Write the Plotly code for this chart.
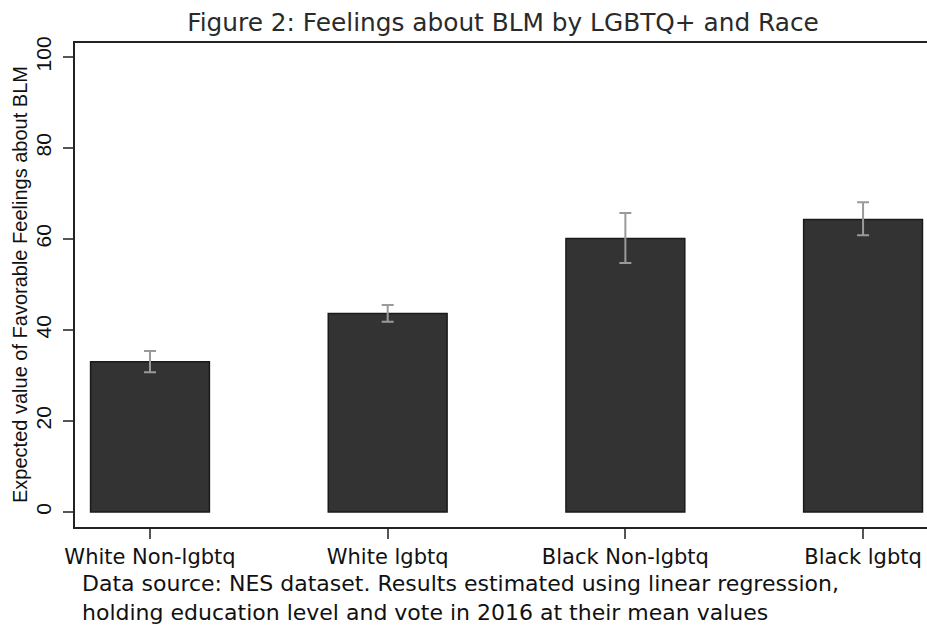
import plotly.graph_objects as go

# Group labels and estimated means with 95% confidence bounds
groups = ["White Non-lgbtq", "White lgbtq", "Black Non-lgbtq", "Black lgbtq"]
expected = [33.0, 43.6, 60.1, 64.3]
ci_upper = [35.4, 45.5, 65.7, 68.1]
ci_lower = [30.7, 41.8, 54.7, 60.8]
y_ticks = [0, 20, 40, 60, 80, 100]

positions = list(range(len(groups)))
err_plus = [u - v for u, v in zip(ci_upper, expected)]
err_minus = [v - l for v, l in zip(expected, ci_lower)]

H_FONT = "DejaVu Sans"
V_FONT = "Liberation Sans, Arial, sans-serif"

fig = go.Figure()
fig.add_trace(go.Bar(
    x=positions,
    y=expected,
    width=0.5,
    marker=dict(color="#333333", line=dict(color="#1a1a1a", width=1.5)),
    error_y=dict(
        type="data",
        symmetric=False,
        array=err_plus,
        arrayminus=err_minus,
        color="#9a9a9a",
        thickness=2,
        width=6,
    ),
    showlegend=False,
))

fig.update_layout(
    width=927,
    height=626,
    margin=dict(l=75, r=0, t=43, b=99),
    plot_bgcolor="white",
    paper_bgcolor="white",
    bargap=0.5,
    title=dict(
        text="Figure 2: Feelings about BLM by LGBTQ+ and Race",
        font=dict(family=H_FONT, size=24.8, color="#2a2a2a"),
        x=503 / 927,
        xanchor="center",
        xref="container",
        y=1 - 22 / 626,
        yanchor="middle",
        yref="container",
    ),
    xaxis=dict(
        range=[-0.3155, 3.269],
        tickmode="array",
        tickvals=positions,
        ticktext=groups,
        ticks="outside",
        ticklen=10,
        tickwidth=2,
        tickcolor="#555555",
        tickfont=dict(family=H_FONT, size=21, color="#111111"),
        showline=True,
        linecolor="#222222",
        linewidth=2,
        mirror=True,
        showgrid=False,
        zeroline=False,
        fixedrange=True,
    ),
    yaxis=dict(
        range=[-3.3, 103.08],
        tickmode="array",
        tickvals=y_ticks,
        ticks="outside",
        ticklen=10,
        tickwidth=2,
        tickcolor="#555555",
        tickangle=-90,
        tickfont=dict(family=V_FONT, size=21, color="#111111"),
        ticklabelstandoff=4,
        showline=True,
        linecolor="#222222",
        linewidth=2,
        mirror=False,
        showgrid=False,
        zeroline=False,
        fixedrange=True,
    ),
)

# Vertical axis title
fig.add_annotation(
    text="Expected value of Favorable Feelings about BLM",
    xref="paper", yref="paper",
    x=(20 - 75) / 852, y=0.5,
    xanchor="center", yanchor="middle",
    textangle=-90,
    showarrow=False,
    font=dict(family=V_FONT, size=20, color="#111111"),
)

# Source note under the chart
note_lines = [
    "Data source: NES dataset. Results estimated using linear regression,",
    "holding education level and vote in 2016 at their mean values",
]
fig.add_annotation(
    text="<br>".join(note_lines),
    xref="paper", yref="paper",
    x=(80 - 75) / 852, y=(527 - 598) / 484,
    xanchor="left", yanchor="middle",
    align="left",
    showarrow=False,
    font=dict(family=H_FONT, size=22, color="#111111"),
)

fig.write_html("out.html")
